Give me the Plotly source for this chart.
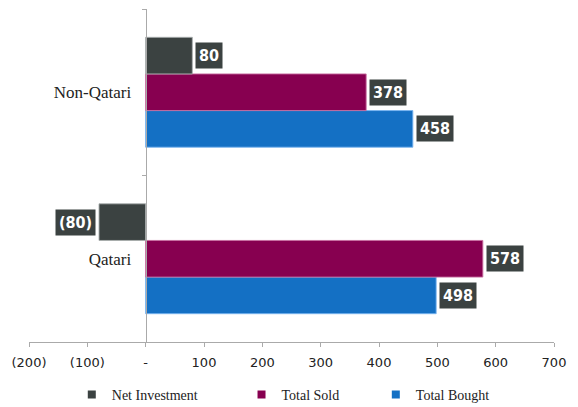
import plotly.graph_objects as go

categories = ["Qatari", "Non-Qatari"]
net_investment = [-80, 80]
total_sold = [578, 378]
total_bought = [498, 458]

x_tick_vals = [-200, -100, 0, 100, 200, 300, 400, 500, 600, 700]
x_tick_text = ["(200)", "(100)", "-", "100", "200", "300", "400", "500", "600", "700"]
x_range = [-200, 700]

C_NET = "#3B4241"
C_SOLD = "#870050"
C_BOUGHT = "#1470C4"

# page has an 8px body margin, so the figure is sized/offset to compensate
W, H = 570, 399
M = dict(l=21, r=24, t=1, b=65, autoexpand=False)
BARGAP = 0.34

def fmt(v):
    return f"({abs(v)})" if v < 0 else str(v)

fig = go.Figure()
series = [
    ("Total Bought", total_bought, C_BOUGHT, "rgba(120,180,240,0.9)", "legend3"),
    ("Total Sold", total_sold, C_SOLD, "rgba(200,110,160,0.9)", "legend2"),
    ("Net Investment", net_investment, C_NET, "rgba(170,175,175,0.9)", "legend"),
]
for name, vals, col, lcol, lg in series:
    fig.add_trace(go.Bar(
        y=categories, x=vals, orientation="h", name=name,
        marker=dict(color=col, line=dict(color=lcol, width=1)),
        showlegend=False,
    ))
    fig.add_trace(go.Scatter(
        x=[None], y=[None], mode="markers", name=name,
        marker=dict(symbol="square", size=8, color=col),
        legend=lg, showlegend=True,
    ))

# data labels
plot_h = H - M["t"] - M["b"]
band = plot_h / len(categories)
bw = band * (1 - BARGAP) / 3
offsets = {"Net Investment": bw, "Total Sold": 0, "Total Bought": -bw}
for name, vals, col, lcol, lg in series:
    for cat, v in zip(categories, vals):
        fig.add_annotation(
            x=v, y=cat, xref="x", yref="y",
            text=f"<b>{fmt(v)}</b>", showarrow=False,
            xanchor="left" if v >= 0 else "right",
            xshift=3 if v >= 0 else -3,
            yshift=offsets[name],
            bgcolor=C_NET, borderpad=3,
            font=dict(family="Liberation Sans Narrow, DejaVu Sans Condensed, Roboto", size=16, color="white"),
        )

ypos = (0 - x_range[0]) / (x_range[1] - x_range[0])

leg_common = dict(orientation="h", yanchor="middle", y=-0.159, xanchor="left",
                  font=dict(family="Liberation Serif", size=14, color="#222"),
                  bgcolor="rgba(0,0,0,0)", itemwidth=30)

fig.update_layout(
    width=W, height=H, margin=M,
    paper_bgcolor="white", plot_bgcolor="white",
    barmode="group", bargap=BARGAP, bargroupgap=0,
    xaxis=dict(range=x_range, tickvals=x_tick_vals, ticktext=x_tick_text,
               automargin=False, ticklabelstandoff=4,
               showgrid=False, zeroline=False, showline=True, linecolor="#aaaaaa",
               linewidth=1, ticks="outside", ticklen=4, tickcolor="#aaaaaa",
               tickfont=dict(family="DejaVu Sans", size=13, color="#222")),
    yaxis=dict(categoryorder="array", categoryarray=categories,
               anchor="free", position=ypos, automargin=False,
               showgrid=False, zeroline=False, showline=True, linecolor="#aaaaaa",
               linewidth=1, ticks="outside", ticklen=4, tickcolor="#aaaaaa",
               tickson="boundaries", ticklabelstandoff=11,
               tickfont=dict(family="Liberation Serif", size=17, color="#222")),
    legend=dict(x=0.0815, **leg_common),
    legend2=dict(x=0.4048, **leg_common),
    legend3=dict(x=0.6606, **leg_common),
)

fig.write_html("out.html")
